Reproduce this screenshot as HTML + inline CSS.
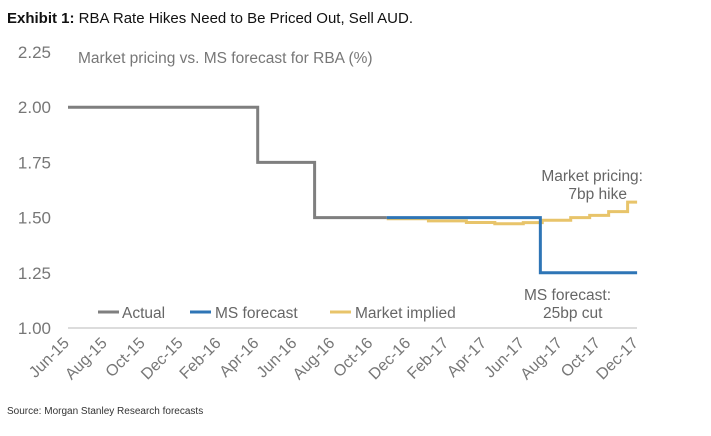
<!DOCTYPE html>
<html><head><meta charset="utf-8"><style>
body{margin:0;background:#fff;width:711px;height:431px;overflow:hidden;font-family:"Liberation Sans",sans-serif}
</style></head><body>
<svg width="711" height="431" xmlns="http://www.w3.org/2000/svg">
<text x="7" y="23" font-size="15" fill="#111"><tspan font-weight="bold">Exhibit 1:</tspan> RBA Rate Hikes Need to Be Priced Out, Sell AUD.</text>
<text x="78" y="63" font-size="15.5" fill="#777">Market pricing vs. MS forecast for RBA (%)</text>
<g id="yax"></g><g id="xax"></g><g id="series"></g>
<g font-size="15.5" fill="#666">
<line x1="98" y1="312" x2="119" y2="312" stroke="#7f7f7f" stroke-width="3"/>
<text x="122" y="318">Actual</text>
<line x1="190" y1="312" x2="211" y2="312" stroke="#2e75b6" stroke-width="3"/>
<text x="215" y="318">MS forecast</text>
<line x1="330" y1="312" x2="351" y2="312" stroke="#e8c46a" stroke-width="3"/>
<text x="355" y="318">Market implied</text>
</g>
<text x="643" y="181" font-size="15.5" fill="#666" text-anchor="end">Market pricing:</text>
<text x="627" y="199" font-size="15.5" fill="#666" text-anchor="end">7bp hike</text>
<text x="524" y="300" font-size="15.5" fill="#666">MS forecast:</text>
<text x="543" y="318" font-size="15.5" fill="#666">25bp cut</text>
<text x="7" y="414" font-size="10" fill="#333">Source: Morgan Stanley Research forecasts</text>
</svg>
<script>
const yTicks=[1.00,1.25,1.50,1.75,2.00,2.25];
const xLabels=["Jun-15","Aug-15","Oct-15","Dec-15","Feb-16","Apr-16","Jun-16","Aug-16","Oct-16","Dec-16","Feb-17","Apr-17","Jun-17","Aug-17","Oct-17","Dec-17"];
const actualMonths=[0,10,13,16.8];
const actualValues=[2.00,1.75,1.50,1.50];
const msMonths=[16.8,24.9,30];
const msValues=[1.50,1.25,1.25];
const mktMonths=[16.8,19,21,22.5,24,25,26.5,27.5,28.5,29.5,30];
const mktValues=[1.495,1.485,1.478,1.472,1.477,1.488,1.50,1.51,1.527,1.57,1.57];
const NS="http://www.w3.org/2000/svg";
const X=m=>68+m*18.97, Y=v=>328-(v-1)*220.8;
function mk(t,a,p){const e=document.createElementNS(NS,t);for(const k in a)e.setAttribute(k,a[k]);p.appendChild(e);return e;}
const yax=document.getElementById('yax');
yTicks.forEach(v=>{const t=mk('text',{x:51,y:Y(v)+6,'font-size':17,fill:'#777','text-anchor':'end'},yax);t.textContent=v.toFixed(2);

});
const ax=mk('line',{x1:68,y1:Y(1),x2:637,y2:Y(1),stroke:'#d0d0d0','stroke-width':1.5},yax);


const xax=document.getElementById('xax');
xLabels.forEach((l,i)=>{const x=X(i*2)+2,y=344;const t=mk('text',{x:x,y:y,'font-size':16,fill:'#777','text-anchor':'end',transform:`rotate(-45 ${x} ${y})`},xax);t.textContent=l;

});
function step(ms,vs,col,name){let d=`M${X(ms[0])},${Y(vs[0])}`;for(let i=1;i<ms.length;i++){d+=` H${X(ms[i])} V${Y(vs[i])}`;}
const p=mk('path',{d,fill:'none',stroke:col,'stroke-width':3},document.getElementById('series'));

}
step(actualMonths,actualValues,'#7f7f7f','actual-line');
step(mktMonths,mktValues,'#e8c46a','market-implied-line');
step(msMonths,msValues,'#2e75b6','ms-forecast-line');
</script>
</body></html>
